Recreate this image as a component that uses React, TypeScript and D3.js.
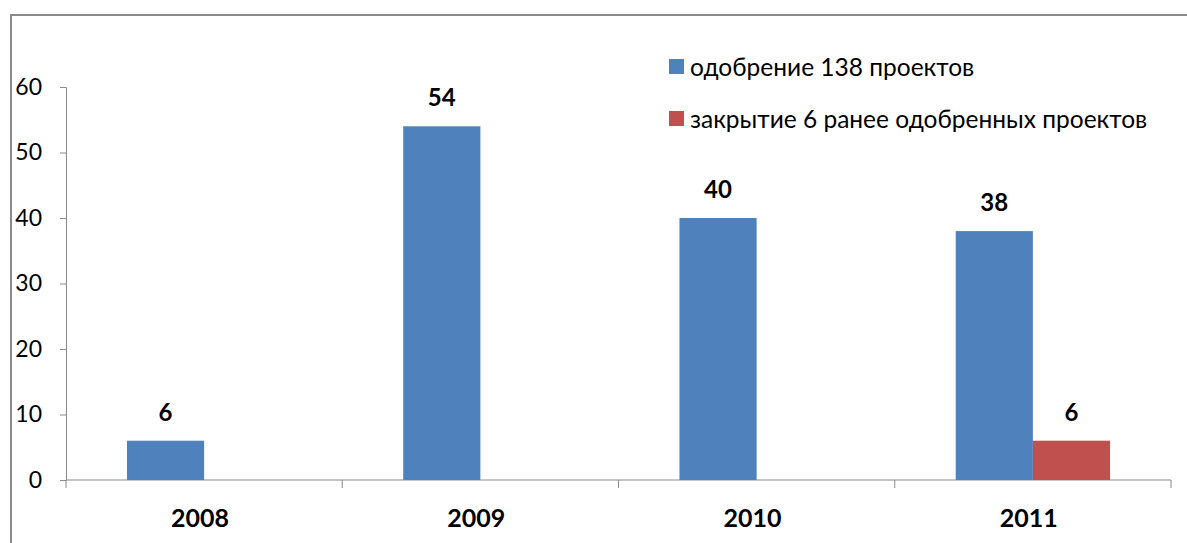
// Grouped bar chart: project approvals and closures by year
import React, { useEffect, useRef } from 'react';
import * as d3 from 'd3';

const years = ['2008', '2009', '2010', '2011'];
const seriesNames = ['одобрение 138 проектов', 'закрытие 6 ранее одобренных проектов'];
const approved = [6, 54, 40, 38];
const closed = [0, 0, 0, 6];
const seriesColors = ['#4F81BD', '#C0504D'];
const yTicks = [0, 10, 20, 30, 40, 50, 60];

const WIDTH = 1187;
const HEIGHT = 543;
const FONT = "Lato, 'Open Sans', sans-serif";

const App: React.FC = () => {
  const svgRef = useRef<SVGSVGElement>(null);

  useEffect(() => {
    if (!svgRef.current) return;
    const svg = d3.select(svgRef.current);
    svg.selectAll('*').remove();

    const plot = { left: 66, right: 1171, top: 87, bottom: 480 };

    // Outer frame
    svg.append('rect')
      .attr('x', 11)
      .attr('y', 15)
      .attr('width', WIDTH)
      .attr('height', HEIGHT)
      .attr('fill', 'none')
      .attr('stroke', '#8a8a8a')
      .attr('stroke-width', 2);

    const x0 = d3.scaleBand<string>()
      .domain(years)
      .range([plot.left, plot.right])
      .padding(0);

    const x1 = d3.scaleBand<number>()
      .domain([0, 1])
      .range([0, x0.bandwidth()])
      .paddingInner(0)
      .paddingOuter(0.79);

    const y = d3.scaleLinear()
      .domain([0, 60])
      .range([plot.bottom, plot.top]);

    // Y axis
    const yAxis = svg.append('g')
      .attr('transform', `translate(${plot.left},0)`)
      .call(d3.axisLeft(y).tickValues(yTicks).tickSize(6).tickPadding(18));
    yAxis.select('.domain').attr('stroke', '#8a8a8a');
    yAxis.selectAll('line').attr('stroke', '#8a8a8a');
    yAxis.selectAll('text')
      .attr('font-family', FONT)
      .attr('font-size', 23)
      .attr('fill', '#000');

    // X axis
    const xAxis = svg.append('g')
      .attr('transform', `translate(0,${plot.bottom})`);
    xAxis.append('line')
      .attr('x1', plot.left)
      .attr('x2', plot.right)
      .attr('stroke', '#8a8a8a');
    const bounds = [...years.map(d => x0(d)!), plot.right];
    bounds.forEach(b => {
      xAxis.append('line')
        .attr('x1', b).attr('x2', b)
        .attr('y1', 0).attr('y2', 8)
        .attr('stroke', '#8a8a8a');
    });
    years.forEach(d => {
      xAxis.append('text')
        .attr('x', x0(d)! + x0.bandwidth() / 2 - 4)
        .attr('y', 47)
        .attr('text-anchor', 'middle')
        .attr('font-family', FONT)
        .attr('font-weight', 'bold')
        .attr('font-size', 25)
        .text(d);
    });

    // Bars and value labels
    const series = [approved, closed];
    series.forEach((vals, si) => {
      vals.forEach((v, i) => {
        if (!v) return;
        const bx = x0(years[i])! + x1(si)!;
        svg.append('rect')
          .attr('x', bx)
          .attr('y', y(v))
          .attr('width', x1.bandwidth())
          .attr('height', y(0) - y(v))
          .attr('fill', seriesColors[si]);
        svg.append('text')
          .attr('x', bx + x1.bandwidth() / 2)
          .attr('y', y(v) - 20)
          .attr('text-anchor', 'middle')
          .attr('font-family', FONT)
          .attr('font-weight', 'bold')
          .attr('font-size', 24)
          .text(v);
      });
    });

    // Legend
    const legend = svg.append('g').attr('transform', 'translate(669,59)');
    seriesNames.forEach((name, i) => {
      const row = legend.append('g').attr('transform', `translate(0,${i * 52})`);
      row.append('rect')
        .attr('width', 15)
        .attr('height', 15)
        .attr('fill', seriesColors[i]);
      row.append('text')
        .attr('x', 21)
        .attr('y', 17)
        .attr('font-family', FONT)
        .attr('font-size', 24.5)
        .text(name);
    });
  }, []);

  return (
    <svg
      ref={svgRef}
      width={WIDTH}
      height={HEIGHT}
      style={{ position: 'absolute', left: 0, top: 0, background: '#fff' }}
    />
  );
};

export default App;
